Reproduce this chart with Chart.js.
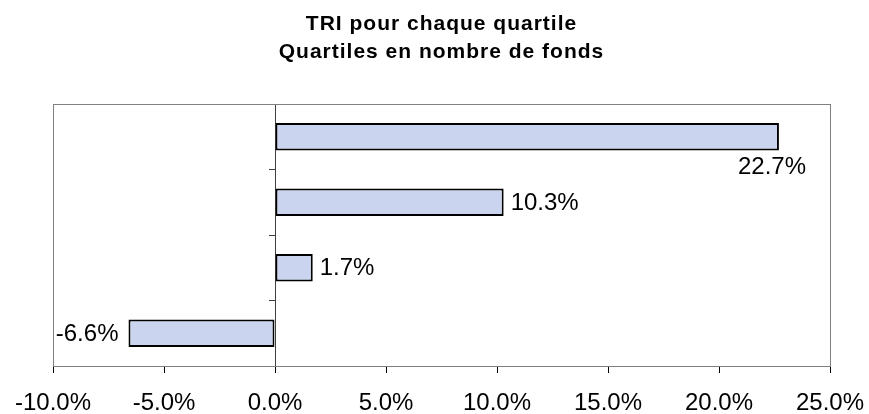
<!DOCTYPE html>
<html><head><meta charset="utf-8">
<script src="https://cdn.jsdelivr.net/npm/chart.js@4"></script>
<style>html,body{margin:0;padding:0;background:#fff;}</style>
</head><body>
<canvas id="c" width="869" height="414"></canvas>
<script>
const titleLines = ['TRI pour chaque quartile', 'Quartiles en nombre de fonds'];
const categories = ['1er quartile', '2e quartile', '3e quartile', '4e quartile'];
const values = [22.7, 10.3, 1.7, -6.6];
const xTicks = [-10, -5, 0, 5, 10, 15, 20, 25];

const FONT = '"Liberation Sans", Arial, sans-serif';
const fmt = v => v.toFixed(1) + '%';

const framePlugin = {
  id: 'frame',
  beforeDatasetsDraw(chart) {
    const {ctx, chartArea: a} = chart;
    ctx.save();
    ctx.strokeStyle = '#808080';
    ctx.lineWidth = 1;
    ctx.strokeRect(Math.round(a.left) + 0.5, Math.round(a.top) + 0.5, Math.round(a.right - a.left), Math.round(a.bottom - a.top));
    ctx.restore();
  }
};

const titlePlugin = {
  id: 'titleLines',
  afterDraw(chart) {
    const {ctx, chartArea: a} = chart;
    ctx.save();
    ctx.font = 'bold 21px ' + FONT;
    if ('letterSpacing' in ctx) ctx.letterSpacing = '1px';
    ctx.fillStyle = '#000';
    ctx.textAlign = 'center';
    ctx.textBaseline = 'alphabetic';
    const cx = (a.left + a.right) / 2;
    ctx.fillText(titleLines[0], cx, 30);
    ctx.fillText(titleLines[1], cx, 58);
    ctx.restore();
  }
};

const labelPlugin = {
  id: 'barLabels',
  afterDatasetsDraw(chart) {
    const {ctx, chartArea: a} = chart;
    const meta = chart.getDatasetMeta(0);
    ctx.save();
    ctx.font = '24px ' + FONT;
    ctx.fillStyle = '#000';
    ctx.textBaseline = 'middle';
    meta.data.forEach((bar, i) => {
      const v = values[i];
      const txt = fmt(v);
      const w = ctx.measureText(txt).width;
      if (v >= 0) {
        let x = bar.x + 7;
        if (x + w > a.right) {
          ctx.textAlign = 'right';
          ctx.fillText(txt, a.right - 24, bar.y + 31);
        } else {
          ctx.textAlign = 'left';
          ctx.fillText(txt, x, bar.y + 1);
        }
      } else {
        ctx.textAlign = 'right';
        ctx.fillText(txt, bar.x - 10, bar.y + 1);
      }
    });
    ctx.restore();
  }
};

new Chart(document.getElementById('c'), {
  type: 'bar',
  data: {
    labels: categories,
    datasets: [{
      data: values,
      backgroundColor: '#CAD4EE',
      borderColor: '#000000',
      borderWidth: 2,
      borderSkipped: false,
      categoryPercentage: 1.0,
      barPercentage: 0.42
    }]
  },
  options: {
    indexAxis: 'y',
    responsive: false,
    animation: false,
    layout: { padding: { left: 53, right: 39, top: 104, bottom: 0 } },
    plugins: { legend: { display: false }, title: { display: false }, tooltip: { enabled: false } },
    scales: {
      x: {
        type: 'linear',
        min: -10, max: 25,
        afterBuildTicks: s => { s.ticks = xTicks.map(v => ({value: v})); },
        afterFit: s => { s.height = 48; s.paddingLeft = 0; s.paddingRight = 0; },
        grid: { drawOnChartArea: false, drawTicks: true, tickLength: 7, color: '#000' },
        border: { display: true, color: '#000', width: 1 },
        ticks: { color: '#000', font: { family: FONT, size: 24 }, padding: 16, maxRotation: 0, callback: v => fmt(v) }
      },
      y: {
        type: 'category',
        position: { x: 0 },
        offset: true,
        afterFit: s => { s.paddingTop = 0; s.paddingBottom = 0; },
        grid: { offset: true, drawOnChartArea: false, drawTicks: true, tickLength: 6, color: '#404040' },
        border: { display: true, color: '#404040', width: 1 },
        ticks: { display: false }
      }
    }
  },
  plugins: [framePlugin, labelPlugin, titlePlugin]
});
</script>
</body></html>
